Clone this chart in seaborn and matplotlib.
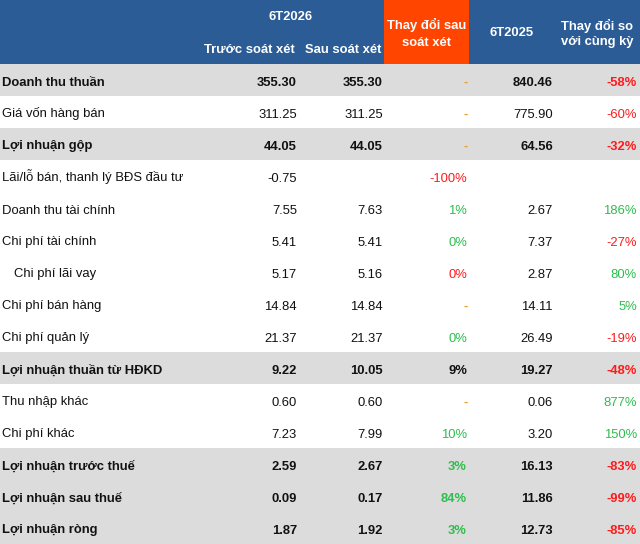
import numpy as np
import pandas as pd
import matplotlib
matplotlib.use("Agg")
import matplotlib.pyplot as plt
from matplotlib.patches import Rectangle
from matplotlib.colors import ListedColormap
import seaborn as sns

labels = ["Doanh thu thuần", "Giá vốn hàng bán", "Lợi nhuận gộp",
          "Lãi/lỗ bán, thanh lý BĐS đầu tư", "Doanh thu tài chính",
          "Chi phí tài chính", "Chi phí lãi vay", "Chi phí bán hàng",
          "Chi phí quản lý", "Lợi nhuận thuần từ HĐKD", "Thu nhập khác",
          "Chi phí khác", "Lợi nhuận trước thuế", "Lợi nhuận sau thuế",
          "Lợi nhuận ròng"]
before_review = [355.30, 311.25, 44.05, -0.75, 7.55, 5.41, 5.17, 14.84, 21.37,
                 9.22, 0.60, 7.23, 2.59, 0.09, 1.87]
after_review = [355.30, 311.25, 44.05, None, 7.63, 5.41, 5.16, 14.84, 21.37,
                10.05, 0.60, 7.99, 2.67, 0.17, 1.92]
review_change = ["-", "-", "-", "-100%", "1%", "0%", "0%", "-", "0%", "9%",
                 "-", "10%", "3%", "84%", "3%"]
review_tone = ["dash", "dash", "dash", "neg", "pos", "pos", "neg", "dash", "pos",
               "plain", "dash", "pos", "pos", "pos", "pos"]
prev_year = [840.46, 775.90, 64.56, None, 2.67, 7.37, 2.87, 14.11, 26.49,
             19.27, 0.06, 3.20, 16.13, 11.86, 12.73]
yoy_change = ["-58%", "-60%", "-32%", "", "186%", "-27%", "80%", "5%", "-19%",
              "-48%", "877%", "150%", "-83%", "-99%", "-85%"]
highlight = [1, 0, 1, 0, 0, 0, 0, 0, 0, 1, 0, 0, 1, 1, 1]
indent = [0, 0, 0, 0, 0, 0, 1, 0, 0, 0, 0, 0, 0, 0, 0]

BLUE = "#2B5C96"
ORANGE = "#FF4500"
GRAY = "#DCDCDC"
GREEN = "#2DBE4E"
RED = "#FF1A1A"
DASH = "#F39C32"
TXT = "#111111"

sns.set_theme(style="white")
plt.rcParams["font.family"] = ["Liberation Sans", "DejaVu Sans"]

W, H = 640, 544
HEAD = 64
ROW = 32
fig = plt.figure(figsize=(W / 100, H / 100), dpi=100)

# body shading via seaborn heatmap
body = fig.add_axes([0, 0, 1, (H - HEAD) / H])
shade = pd.DataFrame({"bg": highlight}, index=labels)
sns.heatmap(shade, ax=body, cmap=ListedColormap(["#FFFFFF", GRAY]), cbar=False,
            vmin=0, vmax=1, xticklabels=False, yticklabels=False, linewidths=0)
body.set_axis_off()

# overlay in pixel coordinates
ax = fig.add_axes([0, 0, 1, 1])
ax.set_xlim(0, W)
ax.set_ylim(H, 0)
ax.set_axis_off()
ax.patch.set_alpha(0)

ax.add_patch(Rectangle((0, 0), W, HEAD, color=BLUE, lw=0))
ax.add_patch(Rectangle((384, 0), 85, HEAD, color=ORANGE, lw=0))

fs = 9.4
hkw = dict(color="white", fontsize=fs, fontweight="bold", va="baseline")
ax.text(291, 20.5, "6T2026", ha="center", **hkw)
ax.text(295, 53, "Trước soát xét", ha="right", **hkw)
ax.text(381, 53, "Sau soát xét", ha="right", **hkw)
ax.text(426.5, 29.5, "Thay đổi sau", ha="center", **hkw)
ax.text(426.5, 45.5, "soát xét", ha="center", **hkw)
ax.text(512, 36.5, "6T2025", ha="center", **hkw)
ax.text(597, 30, "Thay đổi so", ha="center", **hkw)
ax.text(597, 45.5, "với cùng kỳ", ha="center", **hkw)

tone_color = {"dash": DASH, "neg": RED, "pos": GREEN, "plain": TXT}

def fmt(v):
    return "" if v is None else f"{v:.2f}"

for i, lab in enumerate(labels):
    yb = HEAD + ROW * i + 21.5
    w = "bold" if highlight[i] else "normal"
    kw = dict(fontsize=fs, fontweight=w, va="baseline")
    ax.text(2 + 12 * indent[i], yb, lab, ha="left", color=TXT, **kw)
    ax.text(297, yb, fmt(before_review[i]), ha="right", color=TXT, **kw)
    ax.text(383, yb, fmt(after_review[i]), ha="right", color=TXT, **kw)
    rc = review_change[i]
    if rc == "-":
        ax.text(467.5, yb, rc, ha="right", color=DASH, fontsize=fs,
                fontweight="bold", va="baseline")
    else:
        ax.text(467, yb, rc, ha="right", color=tone_color[review_tone[i]], **kw)
    ax.text(553, yb, fmt(prev_year[i]), ha="right", color=TXT, **kw)
    yc = yoy_change[i]
    col = RED if yc.startswith("-") else GREEN
    ax.text(637, yb, yc, ha="right", color=col, **kw)

fig.savefig("out.png", dpi=100)
